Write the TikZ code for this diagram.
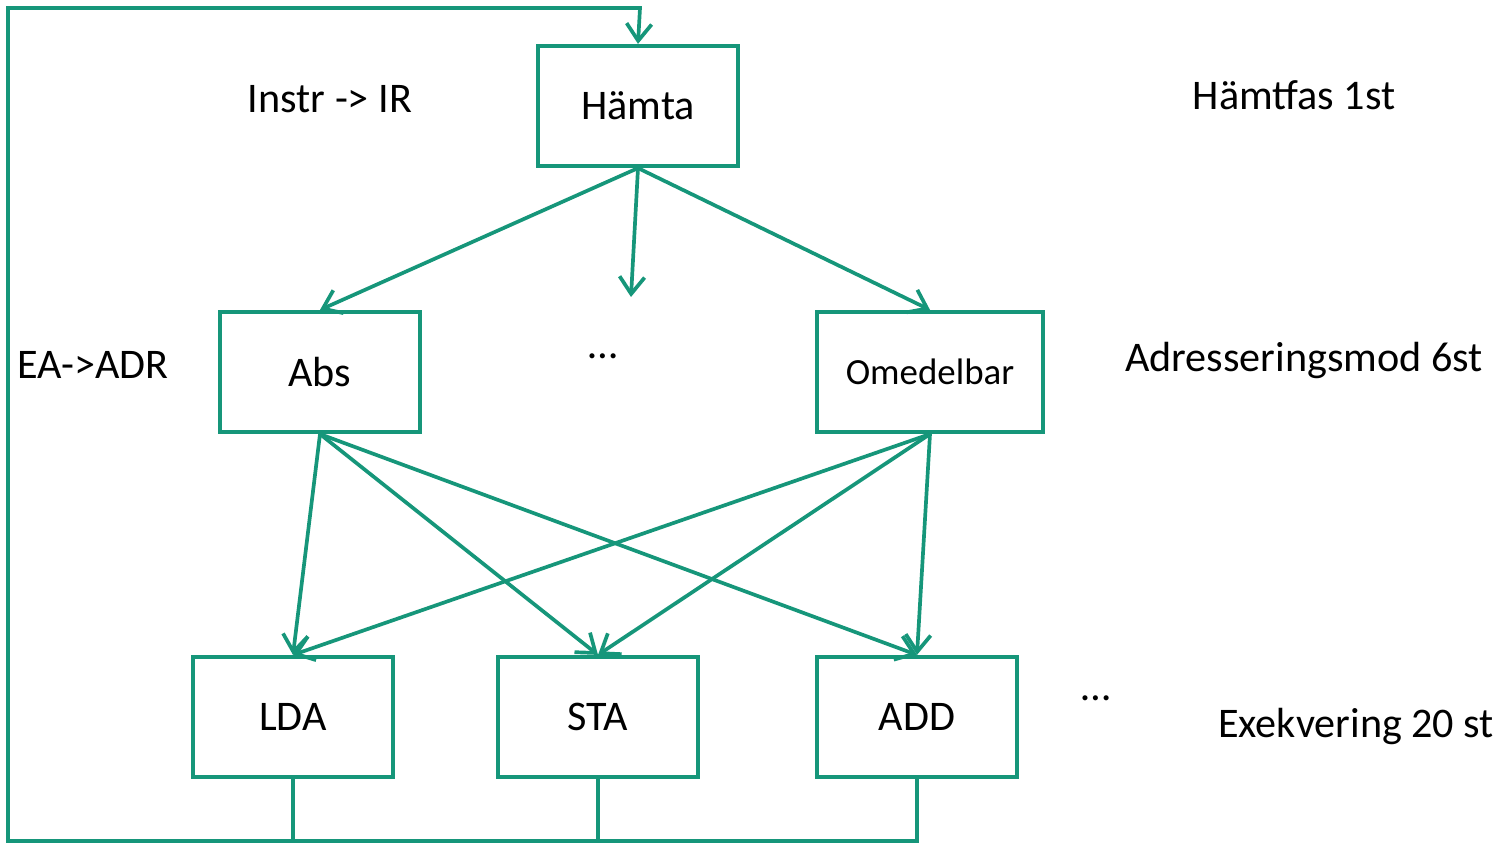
\documentclass[tikz,border=0pt]{standalone}
\usepackage{fontspec}
\setmainfont{Carlito}
\usetikzlibrary{arrows.meta,positioning}
\definecolor{flow}{RGB}{22,150,122}

\begin{document}
\begin{tikzpicture}
	[
		x=0.02cm, y=-0.02cm,
		B/.style = {rectangle, align=center, draw=flow, line width=2.4pt, minimum width=4cm, minimum height=2.4cm, inner sep=0pt, font=\fontsize{24}{28}\selectfont},
		L/.style = {rectangle, align=center, draw=none, fill=none, inner sep=0pt, font=\fontsize{24}{28}\selectfont},
		E/.style = {draw=flow, line width=2.1pt, -{Straight Barb[length=3.4mm,width=5mm]}},
		W/.style = {draw=flow, line width=2.1pt},
	]
	\useasboundingbox (0,0) rectangle (1501,844);

	% fetch phase
	\node[B] (hamta) 	at ( 638, 106 ) {Hämta};

	% addressing modes
	\node[B] (abs) 	at ( 320, 372 ) {Abs};
	\node[B, minimum width=4.52cm, font=\fontsize{21}{25}\selectfont] (omed) 	at ( 930, 372 ) {Omedelbar};
	\node[L] (dots1) 	at ( 603, 356 ) {\dots};

	% execution
	\node[B] (lda) 	at ( 293, 717 ) {LDA};
	\node[B] (sta) 	at ( 598, 717 ) {STA};
	\node[B] (add) 	at ( 917, 717 ) {ADD};
	\node[L] (dots2) 	at ( 1096, 698 ) {\dots};

	% side texts
	\node[L] (instr) 	at ( 330, 99 ) {Instr -> IR};
	\node[L] (eaadr) 	at ( 93, 365 ) {EA->ADR};
	\node[L] (fas) 	at ( 1294, 95 ) {Hämtfas 1st};
	\node[L] (mod) 	at ( 1304, 360 ) {Adresseringsmod 6st};
	\node[L] (exe) 	at ( 1356, 726 ) {Exekvering 20 st};

	% loop corners
	\coordinate (more) 	at ( 631, 297 );
	\coordinate (bl) 	at ( 8, 841 );
	\coordinate (tl) 	at ( 640, 8 );

	\foreach \from/\to in {hamta/abs,hamta/omed,abs/lda,abs/sta,abs/add,omed/lda,omed/sta,omed/add}
	\draw[E] (\from.south) -- (\to.north);
	\draw[E] (hamta.south) -- (more);

	\foreach \from in {lda,sta}
	\draw[W] (\from.south) -- (\from.south |- bl);

	\draw[E] (add.south) |- (bl) |- (tl) -- (hamta.north);

\end{tikzpicture}
\end{document}
